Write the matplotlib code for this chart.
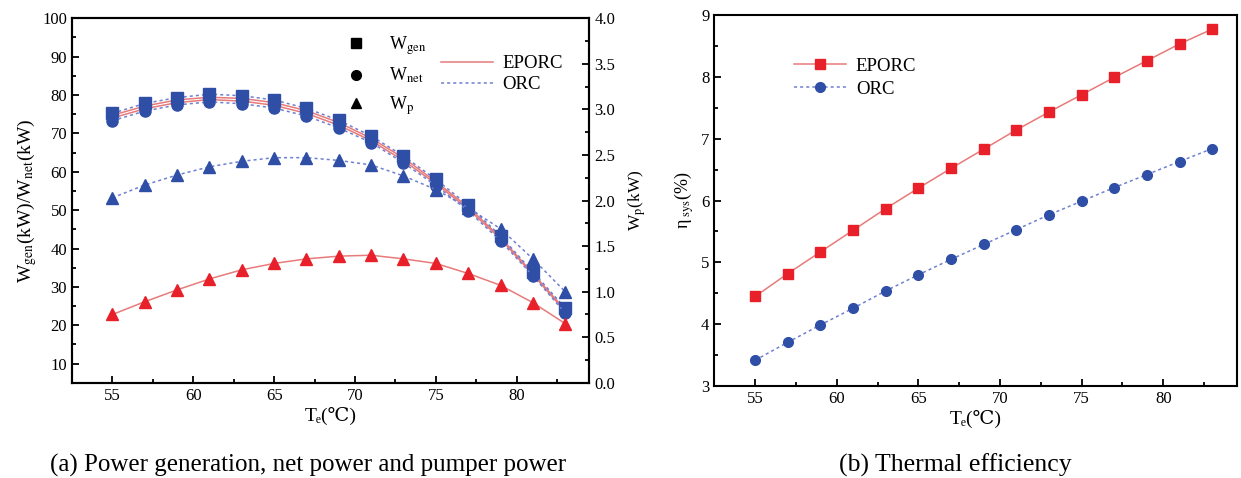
import matplotlib
matplotlib.use('Agg')
import matplotlib.pyplot as plt
from matplotlib.lines import Line2D
from matplotlib.ticker import MultipleLocator, FormatStrFormatter

plt.rcParams['font.family'] = ['Liberation Serif', 'DejaVu Serif', 'DejaVu Sans']
plt.rcParams['mathtext.fontset'] = 'stix'

# evaporation temperature (C)
te = [55, 57, 59, 61, 63, 65, 67, 69, 71, 73, 75, 77, 79, 81, 83]

# (a) power, kW
orc_wgen = [75.2, 77.8, 79.3, 80.2, 79.8, 78.7, 76.5, 73.4, 69.3, 64.1, 58.0, 51.3, 43.3, 33.9, 24.5]
orc_wnet = [73.3, 75.8, 77.4, 78.2, 77.7, 76.6, 74.5, 71.4, 67.6, 62.3, 56.4, 49.8, 42.0, 32.9, 23.2]
eporc_wgen = [74.7, 77.1, 78.7, 79.4, 79.1, 78.0, 75.9, 72.8, 68.7, 63.6, 57.4, 50.8, 42.9, 33.5, 24.0]
eporc_wnet = [74.0, 76.4, 78.0, 78.8, 78.4, 77.3, 75.2, 72.1, 68.1, 62.9, 56.9, 50.3, 42.5, 33.2, 23.6]
orc_wp = [2.03, 2.17, 2.28, 2.37, 2.43, 2.47, 2.47, 2.44, 2.39, 2.27, 2.12, 1.92, 1.69, 1.36, 1.00]
eporc_wp = [0.75, 0.89, 1.02, 1.14, 1.24, 1.31, 1.36, 1.39, 1.40, 1.36, 1.31, 1.20, 1.07, 0.88, 0.65]

# (b) thermal efficiency, %
eporc_eta = [4.45, 4.82, 5.17, 5.52, 5.87, 6.20, 6.52, 6.83, 7.14, 7.43, 7.71, 7.99, 8.26, 8.53, 8.77]
orc_eta = [3.42, 3.71, 3.99, 4.26, 4.54, 4.80, 5.05, 5.29, 5.53, 5.77, 5.99, 6.21, 6.42, 6.63, 6.84]

RED = '#e8202a'
RED_LINE = '#e87a7a'
BLUE = '#2f4ea6'
BLUE_LINE = '#6f80d0'
DOT = (0, (2, 2))

fig = plt.figure(figsize=(12.41, 4.78), dpi=100)
ax = fig.add_axes([0.058, 0.199, 0.417, 0.763])
ax_r = ax.twinx()
ax2 = fig.add_axes([0.5756, 0.192, 0.421, 0.777])


def style_axis(a, xmaj, xmin, ymaj, ymin):
    a.xaxis.set_major_locator(MultipleLocator(xmaj))
    a.xaxis.set_minor_locator(MultipleLocator(xmin))
    a.yaxis.set_major_locator(MultipleLocator(ymaj))
    a.yaxis.set_minor_locator(MultipleLocator(ymin))
    a.tick_params(which='both', direction='in', labelsize=12, width=1.3)
    a.tick_params(which='major', length=5)
    a.tick_params(which='minor', length=3)
    for s in a.spines.values():
        s.set_linewidth(1.5)


# ---- panel (a)
ax.plot(te, eporc_wgen, color=RED_LINE, lw=1.1, marker='s', ms=5, mfc=RED, mec=RED, zorder=2)
ax.plot(te, eporc_wnet, color=RED_LINE, lw=1.1, marker='o', ms=5, mfc=RED, mec=RED, zorder=2)
ax.plot(te, orc_wgen, color=BLUE_LINE, lw=1.1, ls=DOT, marker='s', ms=8,
        mfc=BLUE, mec=BLUE, zorder=3)
ax.plot(te, orc_wnet, color=BLUE_LINE, lw=1.1, ls=DOT, marker='o', ms=8,
        mfc=BLUE, mec=BLUE, zorder=3)
ax_r.plot(te, eporc_wp, color=RED_LINE, lw=1.1, marker='^', ms=9, mfc=RED, mec=RED)
ax_r.plot(te, orc_wp, color=BLUE_LINE, lw=1.1, ls=DOT, marker='^', ms=9,
          mfc=BLUE, mec=BLUE)

ax.set_xlim(52.5, 84.5)
ax.set_ylim(5, 100)
ax_r.set_ylim(0, 4)
style_axis(ax, 5, 2.5, 10, 5)
style_axis(ax_r, 5, 2.5, 0.5, 0.25)
ax.set_yticks(range(10, 101, 10))
ax_r.yaxis.set_major_formatter(FormatStrFormatter('%.1f'))
ax.set_xlabel('T\u2091(\u2103)', fontsize=14, labelpad=2)
ax.set_ylabel(r'W$_\mathrm{gen}$(kW)/W$_\mathrm{net}$(kW)', fontsize=14, labelpad=2)
ax_r.set_ylabel(r'W$_\mathrm{p}$(kW)', fontsize=12.5, labelpad=8)

mark_handles = [Line2D([], [], color='black', marker=m, ls='none', ms=7) for m in ['s', 'o', '^']]
leg1 = ax.legend(mark_handles, [r'W$_\mathrm{gen}$', r'W$_\mathrm{net}$', r'W$_\mathrm{p}$'],
                 loc='upper left', bbox_to_anchor=(0.5, 1.0), frameon=False, fontsize=13,
                 handlelength=1.0, handletextpad=1.3, labelspacing=0.5)
ax.add_artist(leg1)
line_handles = [Line2D([], [], color=RED_LINE, lw=1.1),
                Line2D([], [], color=BLUE_LINE, lw=1.1, ls=DOT)]
ax.legend(line_handles, ['EPORC', 'ORC'], loc='upper left', bbox_to_anchor=(0.68, 0.945),
          frameon=False, fontsize=13.5, handlelength=2.8, handletextpad=0.5, labelspacing=0.2)

# ---- panel (b)
ax2.plot(te, eporc_eta, color=RED_LINE, lw=1.1, marker='s', ms=7, mfc=RED, mec=RED, label='EPORC')
ax2.plot(te, orc_eta, color=BLUE_LINE, lw=1.1, ls=DOT, marker='o', ms=7,
         mfc=BLUE, mec=BLUE, label='ORC')
ax2.set_xlim(52.5, 84.5)
ax2.set_ylim(3, 9)
style_axis(ax2, 5, 2.5, 1, 0.5)
ax2.set_xlabel('T\u2091(\u2103)', fontsize=14, labelpad=2)
ax2.set_ylabel(r'η$_\mathrm{\ sys}$(%)', fontsize=13, labelpad=4)
ax2.legend(loc='upper left', bbox_to_anchor=(0.12, 0.93), frameon=False, fontsize=13.5,
           handlelength=2.8, handletextpad=0.5, labelspacing=0.3)

fig.text(0.248, 0.027, '(a) Power generation, net power and pumper power',
         ha='center', va='center', fontsize=18)
fig.text(0.77, 0.027, '(b) Thermal efficiency', ha='center', va='center', fontsize=18.5)

fig.savefig('out.png', dpi=100)
